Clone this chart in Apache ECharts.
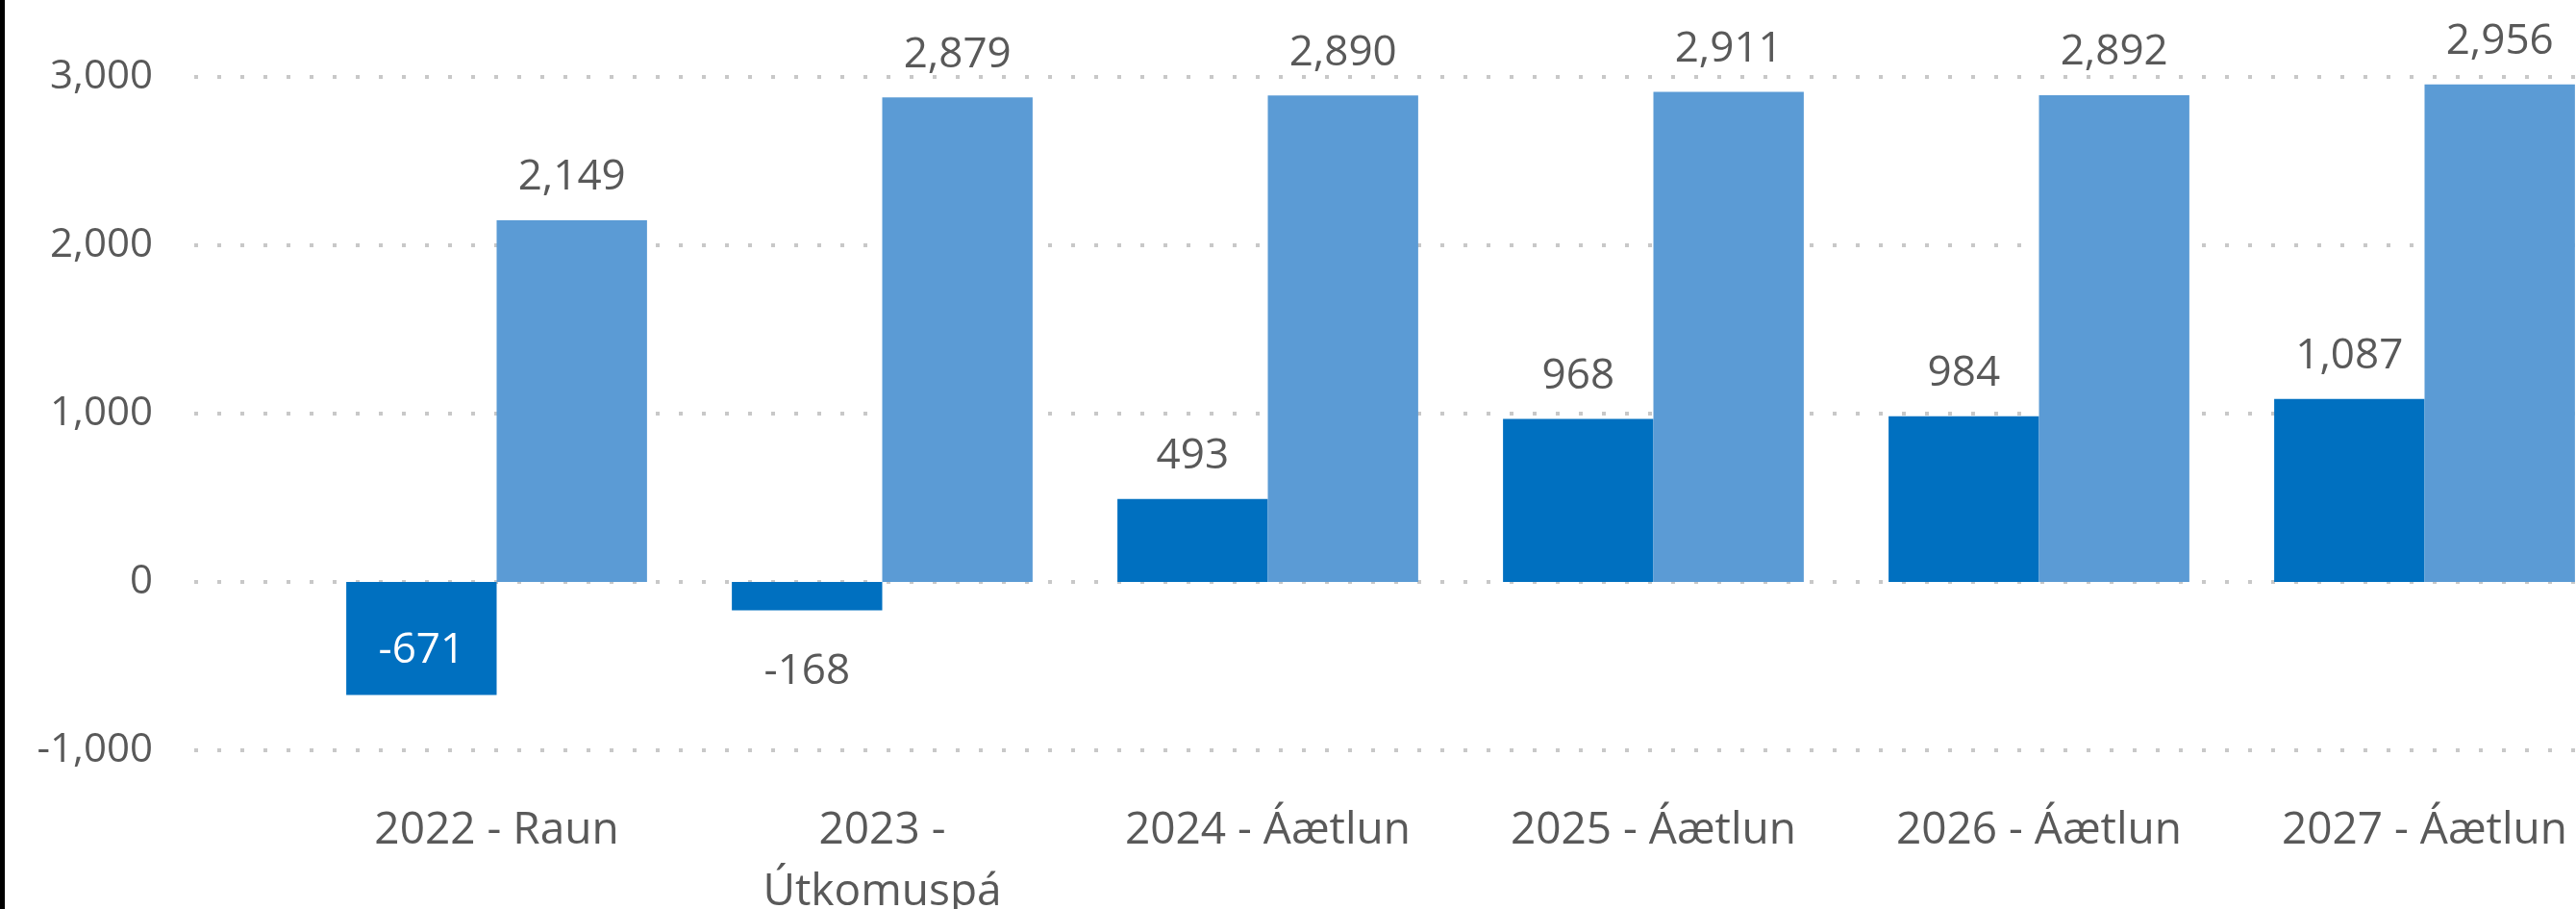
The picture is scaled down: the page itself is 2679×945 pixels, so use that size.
<!DOCTYPE html>
<html>
<head>
<meta charset="utf-8">
<script src="https://cdn.jsdelivr.net/npm/echarts@6/dist/echarts.min.js"></script>
<style>
  html, body { margin: 0; padding: 0; background: #fff; }
  #main { width: 2679px; height: 945px; }
</style>
</head>
<body>
<div id="main"></div>
<script>
var categories = ['2022 - Raun', '2023 -\nÚtkomuspá', '2024 - Áætlun', '2025 - Áætlun', '2026 - Áætlun', '2027 - Áætlun'];
var darkValues = [-671, -168, 493, 968, 984, 1087];   // dekkri súlur
var lightValues = [2149, 2879, 2890, 2911, 2892, 2956]; // ljósari súlur
var yTicks = [-1000, 0, 1000, 2000, 3000];

var textGray = '#595959';
var fontName = 'Open Sans';

function fmt(v) {
  return Number(v).toLocaleString('en-US');
}

// dark series, the negative bars get their own label placement
var darkData = [];
for (var i = 0; i < darkValues.length; i++) {
  var item = { value: darkValues[i] };
  if (i === 0) {
    item.label = { position: 'insideBottom', distance: 24, color: '#ffffff' };
  } else if (darkValues[i] < 0) {
    item.label = { position: 'bottom', distance: 42 };
  }
  darkData.push(item);
}

var myChart = echarts.init(document.getElementById('main'));

var option = {
  animation: false,
  backgroundColor: '#ffffff',
  textStyle: { fontFamily: fontName },
  grid: [
    { left: 202, top: 80, width: 2520, height: 700, outerBoundsMode: 'none', containLabel: false },
    { left: 316, top: 80, width: 2406, height: 700, outerBoundsMode: 'none', containLabel: false }
  ],
  xAxis: [
    { type: 'category', gridIndex: 0, data: categories, show: false },
    {
      type: 'category', gridIndex: 1, data: categories,
      axisLine: { show: false },
      axisTick: { show: false },
      axisLabel: {
        color: textGray, fontSize: 46, fontFamily: fontName,
        margin: 52, lineHeight: 64, interval: 0
      }
    }
  ],
  yAxis: [
    {
      type: 'value', gridIndex: 0,
      min: yTicks[0], max: yTicks[yTicks.length - 1], interval: 1000,
      axisLine: { show: false },
      axisTick: { show: false },
      axisLabel: {
        color: textGray, fontSize: 42, fontFamily: fontName, margin: 43,
        formatter: function (v) { return fmt(v); }
      },
      splitLine: {
        lineStyle: { color: '#c8c8c8', width: 4, type: [4, 20] }
      }
    },
    {
      type: 'value', gridIndex: 1,
      min: yTicks[0], max: yTicks[yTicks.length - 1], interval: 1000,
      show: false,
      splitLine: { show: false }
    }
  ],
  series: [
    {
      name: 'A',
      type: 'bar',
      xAxisIndex: 1, yAxisIndex: 1,
      data: darkData,
      barGap: 0,
      barCategoryGap: '22%',
      itemStyle: { color: '#0070C0' },
      label: {
        show: true, position: 'top', distance: 22,
        color: textGray, fontSize: 44, fontFamily: fontName,
        formatter: function (p) { return fmt(p.value); }
      }
    },
    {
      name: 'B',
      type: 'bar',
      xAxisIndex: 1, yAxisIndex: 1,
      data: lightValues,
      barGap: 0,
      barCategoryGap: '22%',
      itemStyle: { color: '#5B9BD5' },
      label: {
        show: true, position: 'top', distance: 22,
        color: textGray, fontSize: 44, fontFamily: fontName,
        formatter: function (p) { return fmt(p.value); }
      }
    }
  ],
  graphic: [
    { type: 'rect', left: 0, top: 0, shape: { width: 5, height: 945 }, style: { fill: '#000000' } }
  ]
};

myChart.setOption(option);
</script>
</body>
</html>
